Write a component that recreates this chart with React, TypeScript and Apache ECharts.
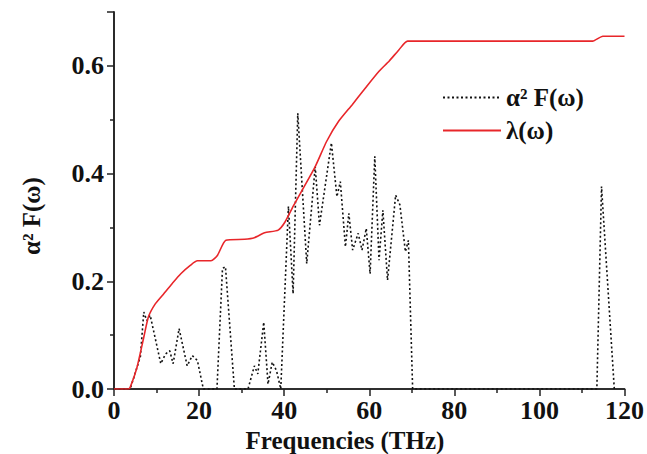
import React, { useEffect, useRef } from "react";
import * as echarts from "echarts";

const lambdaX = [0, 3.4, 3.8, 5.4, 7, 8.1, 9.7, 11.7, 13.7, 15.7, 18, 19.6, 22.8, 24.3, 26.3, 30.7, 33, 35.4, 38.6, 40.2, 42.1, 44.5, 47.3, 50, 52.8, 56, 59.1, 62.3, 64.7, 67, 69, 112.5, 114.9, 120];
const lambdaY = [0, 0, 0.003, 0.04, 0.096, 0.134, 0.158, 0.177, 0.196, 0.214, 0.23, 0.238, 0.238, 0.248, 0.276, 0.278, 0.281, 0.29, 0.295, 0.31, 0.339, 0.373, 0.413, 0.46, 0.497, 0.528, 0.559, 0.59, 0.609, 0.63, 0.646, 0.646, 0.655, 0.655];

const a2fX = [0, 3.8, 5.4, 6.2, 7, 7.7, 8.5, 11, 12.1, 13.1, 13.9, 15.3, 17.2, 18.4, 19.6, 21, 24.2, 25.5, 26.2, 28.3, 31.5, 33, 33.8, 35.2, 36.2, 37.2, 38.2, 39.2, 41, 42.1, 43.2, 45.3, 47.3, 48.3, 51.1, 52.4, 53.2, 54.4, 55.2, 56.1, 57.4, 58.3, 59.3, 60.2, 61.3, 62.3, 63.2, 64.3, 66.2, 67.2, 68.5, 69.2, 70.2, 113.5, 114.6, 117.6];
const a2fY = [0, 0, 0.04, 0.06, 0.143, 0.127, 0.137, 0.047, 0.065, 0.071, 0.047, 0.112, 0.043, 0.062, 0.053, 0, 0, 0.224, 0.227, 0, 0, 0.043, 0.028, 0.124, 0.009, 0.05, 0.034, 0, 0.339, 0.177, 0.512, 0.233, 0.413, 0.304, 0.457, 0.357, 0.385, 0.264, 0.326, 0.258, 0.289, 0.258, 0.298, 0.214, 0.432, 0.239, 0.332, 0.202, 0.36, 0.342, 0.255, 0.276, 0, 0, 0.376, 0];

const xTicks = [0, 20, 40, 60, 80, 100, 120];
const yTicks = [0, 0.2, 0.4, 0.6];

const FONT = "'Liberation Serif', 'Times New Roman', serif";

export default function App() {
  const ref = useRef<HTMLDivElement>(null);
  useEffect(() => {
    if (!ref.current) return;
    const chart = echarts.init(ref.current, null, { renderer: "svg" });
    const axisLine = { show: true, lineStyle: { color: "#222", width: 1.6 } };
    chart.setOption({
      animation: false,
      backgroundColor: "#fff",
      grid: { left: 114, right: 22, top: 12, bottom: 65 },
      legend: {
        orient: "vertical",
        left: 437,
        top: 80,
        itemWidth: 58,
        itemHeight: 14,
        itemGap: 8,
        itemStyle: { opacity: 0 },
        data: ["α² F(ω)", "λ(ω)"],
        textStyle: { fontFamily: FONT, fontWeight: "bold", fontSize: 25, color: "#111", padding: [0, 0, 0, 0] },
      },
      xAxis: [
        {
          type: "value",
          min: 0,
          max: 120,
          interval: 20,
          axisLine,
          axisTick: { show: true, inside: false, length: 7, lineStyle: { color: "#222", width: 1.5 } },
          minorTick: { show: true, splitNumber: 2, length: 4, lineStyle: { color: "#222", width: 1.5 } },
          splitLine: { show: false },
          axisLabel: {
            margin: 8,
            fontFamily: FONT,
            fontWeight: "bold",
            fontSize: 26,
            color: "#111",
            formatter: (v: number) => (xTicks.includes(v) ? String(v) : ""),
          },
        },
        {
          type: "value",
          position: "top",
          min: 0,
          max: 120,
          axisLine,
          axisTick: { show: false },
          axisLabel: { show: false },
          splitLine: { show: false },
        },
      ],
      yAxis: [
        {
          type: "value",
          min: 0,
          max: 0.7,
          interval: 0.2,
          axisLine,
          axisTick: { show: true, length: 7, lineStyle: { color: "#222", width: 1.5 } },
          minorTick: { show: true, splitNumber: 2, length: 4, lineStyle: { color: "#222", width: 1.5 } },
          splitLine: { show: false },
          axisLabel: {
            margin: 10,
            fontFamily: FONT,
            fontWeight: "bold",
            fontSize: 26,
            color: "#111",
            formatter: (v: number) => (yTicks.some((t) => Math.abs(t - v) < 1e-9) ? v.toFixed(1) : ""),
          },
        },
        {
          type: "value",
          position: "right",
          min: 0,
          max: 0.7,
          axisLine,
          axisTick: { show: false },
          axisLabel: { show: false },
          splitLine: { show: false },
        },
      ],
      graphic: [
        {
          type: "text",
          x: 345,
          y: 440,
          style: {
            text: "Frequencies (THz)",
            font: `bold 25px ${FONT}`,
            fill: "#111",
            align: "center",
            verticalAlign: "middle",
          },
        },
        {
          type: "text",
          x: 31,
          y: 216,
          rotation: Math.PI / 2,
          style: {
            text: "α² F(ω)",
            font: `bold 25px ${FONT}`,
            fill: "#111",
            align: "center",
            verticalAlign: "middle",
          },
        },
      ],
      series: [
        {
          name: "α² F(ω)",
          type: "line",
          symbol: "none",
          data: a2fX.map((x, i) => [x, a2fY[i]]),
          lineStyle: { color: "#111", width: 1.6, type: [2, 2.5] },
          itemStyle: { color: "#111" },
          z: 2,
        },
        {
          name: "λ(ω)",
          type: "line",
          symbol: "none",
          smooth: 0.2,
          data: lambdaX.map((x, i) => [x, lambdaY[i]]),
          lineStyle: { color: "#e8262a", width: 1.6 },
          itemStyle: { color: "#e8262a" },
          z: 3,
        },
      ],
    });
    return () => chart.dispose();
  }, []);
  return <div ref={ref} style={{ position: "fixed", left: 0, top: 0, width: 647, height: 454 }} />;
}
